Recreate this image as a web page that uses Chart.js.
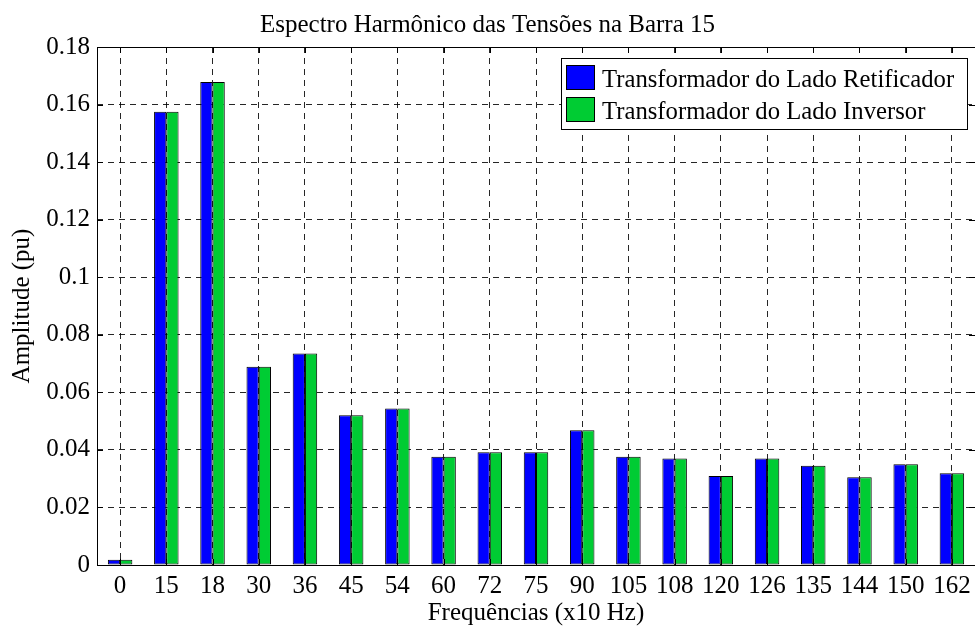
<!DOCTYPE html>
<html>
<head>
<meta charset="utf-8">
<script src="https://cdn.jsdelivr.net/npm/chart.js@4/dist/chart.umd.min.js"></script>
<style>
  html, body { margin: 0; padding: 0; background: #fff; overflow: hidden; }
  #wrap { width: 980px; height: 628px; }
</style>
</head>
<body>
<div id="wrap"><canvas id="grafico" width="980" height="628"></canvas></div>
<script>
// harmonicas (x10 Hz)
const frequencias = ["0","15","18","30","36","45","54","60","72","75","90","105","108","120","126","135","144","150","162"];

// amplitudes (pu)
const ladoRetificador = [0.0018,0.1575,0.1678,0.0689,0.0735,0.0520,0.0544,0.0376,0.0392,0.0392,0.0468,0.0376,0.0370,0.0309,0.0370,0.0345,0.0305,0.0350,0.0319];
const ladoInversor    = [0.0018,0.1575,0.1678,0.0689,0.0735,0.0520,0.0544,0.0376,0.0392,0.0392,0.0468,0.0376,0.0370,0.0309,0.0370,0.0345,0.0305,0.0350,0.0319];

const nomes = ["Transformador do Lado Retificador", "Transformador do Lado Inversor"];
const cores = ["#0000ff", "#00cc33"];

const FONTE = "'Liberation Serif', 'Times New Roman', serif";

// caixa do eixo com marcas para dentro (estilo matlab)
const caixaEixos = {
  id: "caixaEixos",
  afterDatasetsDraw(chart) {
    const { ctx, chartArea: a, scales } = chart;
    const tl = 6;
    ctx.save();
    ctx.strokeStyle = "#000";
    ctx.lineWidth = 1;
    ctx.setLineDash([]);
    ctx.beginPath();
    scales.x.ticks.forEach((t, i) => {
      const x = Math.round(scales.x.getPixelForTick(i)) + 0.5;
      ctx.moveTo(x, a.bottom); ctx.lineTo(x, a.bottom - tl);
      ctx.moveTo(x, a.top); ctx.lineTo(x, a.top + tl);
    });
    scales.y.ticks.forEach((t, i) => {
      const y = Math.round(scales.y.getPixelForTick(i)) + 0.5;
      ctx.moveTo(a.left, y); ctx.lineTo(a.left + tl, y);
      ctx.moveTo(a.right, y); ctx.lineTo(a.right - tl, y);
    });
    ctx.stroke();
    ctx.strokeRect(Math.round(a.left) + 0.5, Math.round(a.top) + 0.5,
                   Math.round(a.right - a.left), Math.round(a.bottom - a.top));
    ctx.restore();
  }
};

// legenda dentro do grafico, canto superior direito
const legendaCaixa = {
  id: "legendaCaixa",
  afterDraw(chart) {
    const { ctx } = chart;
    const bx = 561.5, by = 58.5, bw = 406, bh = 71;
    ctx.save();
    ctx.setLineDash([]);
    ctx.fillStyle = "#fff";
    ctx.fillRect(bx, by, bw, bh);
    ctx.strokeStyle = "#000";
    ctx.lineWidth = 1;
    ctx.strokeRect(bx, by, bw, bh);
    ctx.font = "24.7px " + FONTE;
    ctx.textBaseline = "alphabetic";
    chart.data.datasets.forEach((ds, i) => {
      const sy = 65.5 + i * 32;
      ctx.fillStyle = ds.backgroundColor;
      ctx.fillRect(566.5, sy, 28, 24);
      ctx.strokeRect(566.5, sy, 28, 24);
      ctx.fillStyle = "#000";
      ctx.fillText(ds.label, 602, 87 + i * 32);
    });
    ctx.restore();
  }
};

new Chart(document.getElementById("grafico"), {
  type: "bar",
  data: {
    labels: frequencias,
    datasets: [
      { label: nomes[0], data: ladoRetificador, backgroundColor: cores[0] },
      { label: nomes[1], data: ladoInversor, backgroundColor: cores[1] }
    ]
  },
  options: {
    responsive: false,
    animation: false,
    devicePixelRatio: 1,
    layout: { padding: { left: 0, right: 5, top: 0, bottom: 0 } },
    datasets: {
      bar: {
        categoryPercentage: 0.53,
        barPercentage: 1.0,
        borderColor: "#000",
        borderWidth: 1,
        borderSkipped: false
      }
    },
    plugins: {
      legend: { display: false },
      tooltip: { enabled: false },
      title: {
        display: true,
        text: "Espectro Harmônico das Tensões na Barra 15",
        color: "#000",
        font: { family: FONTE, size: 25, weight: "normal", lineHeight: 1.2 },
        padding: { top: 10, bottom: 7 }
      }
    },
    scales: {
      x: {
        afterFit(s) { s.height = 63; },
        grid: { offset: false, drawTicks: false, color: "rgba(0,0,0,0.85)", lineWidth: 1 },
        border: { display: false, dash: [6, 5] },
        ticks: {
          color: "#000", padding: 6, autoSkip: false, maxRotation: 0,
          font: { family: FONTE, size: 25 }
        },
        title: {
          display: true, text: "Frequências (x10 Hz)", color: "#000",
          font: { family: FONTE, size: 25, lineHeight: 1.2 },
          padding: { top: 0, bottom: 0 }
        }
      },
      y: {
        min: 0, max: 0.18,
        afterFit(s) { s.width = 97; },
        grid: { drawTicks: false, color: "rgba(0,0,0,0.85)", lineWidth: 1 },
        border: { display: false, dash: [6, 5] },
        ticks: {
          stepSize: 0.02, color: "#000", padding: 7,
          font: { family: FONTE, size: 25 },
          callback: v => String(+v.toFixed(2))
        },
        title: {
          display: true, text: "Amplitude (pu)", color: "#000",
          font: { family: FONTE, size: 25, lineHeight: 1.2 },
          padding: { top: 7, bottom: 0 }
        }
      }
    }
  },
  plugins: [caixaEixos, legendaCaixa]
});
</script>
</body>
</html>
